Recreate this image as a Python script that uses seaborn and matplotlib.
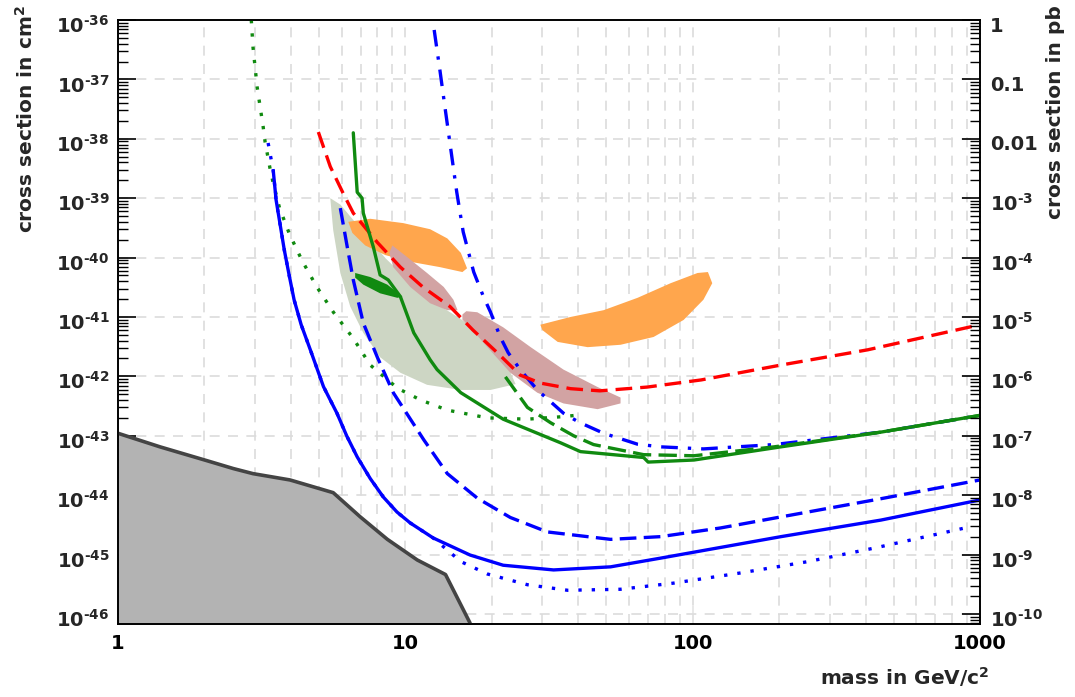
import numpy as np
import matplotlib
matplotlib.use("Agg")
import matplotlib.pyplot as plt
import matplotlib.transforms as mtransforms
import seaborn as sns
from matplotlib.ticker import FixedLocator, FixedFormatter, LogLocator, NullFormatter

# ---------------- data ----------------
mass_ticks = [1, 10, 100, 1000]
mass_tick_labels = ["1", "10", "100", "1000"]
cm2_exponents = [-36, -37, -38, -39, -40, -41, -42, -43, -44, -45, -46]
pb_tick_values = [1, 0.1, 0.01, 1e-3, 1e-4, 1e-5, 1e-6, 1e-7, 1e-8, 1e-9, 1e-10]
HY = "\u2010"
pb_tick_labels = ["1", "0.1", "0.01"] + ["$10^{%s%d}$" % (HY, k) for k in [3, 4, 5, 6, 7, 8, 9, 10]]

# grey region at the bottom left
grey_m = [1, 1.4, 2.04, 2.52, 2.95, 3.97, 5.61, 6.97, 8.66, 11.0, 13.8, 16.8]
grey_y = [1.1e-43, 6.5e-44, 3.8e-44, 2.8e-44, 2.3e-44, 1.8e-44, 1.1e-44, 4.3e-45, 1.8e-45, 8.1e-46, 4.6e-46, 7e-47]

blue_solid_m = [3.47, 3.55, 3.67, 3.79, 3.94, 4.10, 4.34, 4.67, 5.19, 5.78, 6.26, 6.80, 7.55, 8.38, 9.35,
                10.4, 12.5, 16.8, 21.9, 32.8, 51.8, 77.4, 203, 452, 1000]
blue_solid_y = [2.9e-39, 9.3e-40, 3.5e-40, 1.35e-40, 5.1e-41, 1.95e-41, 7.4e-42, 2.8e-42, 6.7e-43, 2.4e-43,
                9.8e-44, 4.4e-44, 1.9e-44, 9.3e-45, 5.2e-45, 3.4e-45, 1.9e-45, 9.8e-46, 6.6e-46, 5.5e-46,
                6.2e-46, 8.7e-46, 2.0e-45, 3.8e-45, 8.3e-45]

blue_dotted_m = [3.33, 3.47, 3.55, 3.67, 3.79, 3.94, 4.10, 4.34, 4.67, 5.19, 5.78, 6.26, 6.80, 7.55, 8.38,
                 9.35, 10.4, 12.5, 15.6, 19.3, 26.6, 36.7, 56.1, 85.9, 147, 252, 434, 916]
blue_dotted_y = [8.5e-39, 2.9e-39, 9.3e-40, 3.5e-40, 1.35e-40, 5.1e-41, 1.95e-41, 7.4e-42, 2.8e-42, 6.7e-43,
                 2.4e-43, 9.8e-44, 4.4e-44, 1.9e-44, 9.3e-45, 5.2e-45, 3.4e-45, 1.9e-45, 7.6e-46, 4.7e-46,
                 3.1e-46, 2.5e-46, 2.6e-46, 3.3e-46, 4.9e-46, 7.6e-46, 1.3e-45, 2.9e-45]

blue_dashed_m = [5.94, 6.28, 6.59, 7.14, 7.99, 9.08, 11.6, 14.0, 17.8, 23.2, 31.2, 51.8, 77.4, 125, 203, 452, 1000]
blue_dashed_y = [6.8e-40, 1.5e-40, 4.2e-41, 7.9e-42, 2.1e-42, 5.3e-43, 8.5e-44, 2.3e-44, 8.9e-45, 4.2e-45,
                 2.4e-45, 1.8e-45, 2.0e-45, 2.8e-45, 4.3e-45, 8.7e-45, 1.8e-44]

blue_dashdot_m = [12.6, 13.2, 13.8, 15.1, 15.9, 17.3, 18.7, 19.8, 21.4, 22.8, 25.1, 28.8, 35.5, 40.1, 49.0,
                  64.3, 77.4, 109, 192, 452, 1000]
blue_dashdot_y = [6.8e-37, 1.4e-37, 2.9e-38, 1.26e-39, 2.7e-40, 5.7e-41, 2.2e-41, 1.2e-41, 4.6e-42, 2.5e-42,
                  1.3e-42, 5.9e-43, 2.4e-43, 1.7e-43, 1.1e-43, 7.2e-44, 6.5e-44, 6.0e-44, 7.1e-44, 1.15e-43, 2.2e-43]

green_solid_m = [6.59, 6.80, 7.07, 7.14, 7.74, 8.17, 8.72, 9.61, 10.7, 12.2, 12.9, 15.6, 21.9, 34.7, 40.7,
                 67.5, 70, 101, 203, 452, 1000]
green_solid_y = [1.26e-38, 1.26e-39, 1.0e-39, 5.6e-40, 1.5e-40, 5.1e-41, 4.2e-41, 2.2e-41, 5.4e-42, 1.9e-42,
                 1.3e-42, 5.3e-43, 1.9e-43, 7.6e-44, 5.4e-44, 4.3e-44, 3.6e-44, 3.9e-44, 6.5e-44, 1.15e-43, 2.2e-43]

green_dashed_m = [22.3, 26.6, 32.0, 38.5, 45.2, 67.5, 101, 192, 452, 1000]
green_dashed_y = [9.8e-43, 3.0e-43, 1.66e-43, 1.0e-43, 7.1e-44, 4.8e-44, 4.6e-44, 6.5e-44, 1.15e-43, 2.2e-43]

green_dotted_m = [2.91, 2.95, 3.05, 3.20, 3.25, 3.38, 3.46, 3.65, 3.95, 4.37, 4.92, 5.62, 6.58, 7.55, 9.4,
                  11.3, 14.0, 19.3, 26.6, 35.5, 39]
green_dotted_y = [1e-36, 3.5e-37, 7.4e-38, 1.6e-38, 8.9e-39, 3.2e-39, 1.9e-39, 6.8e-40, 2.5e-40, 8.9e-41,
                  3.2e-41, 1.2e-41, 4.4e-42, 1.55e-42, 6.3e-43, 4.0e-43, 2.7e-43, 2.0e-43, 1.9e-43, 2.1e-43, 2.2e-43]

red_dashed_m = [4.98, 5.48, 6.08, 6.59, 7.99, 9.61, 11.5, 14.3, 17.2, 20.9, 25.1, 29.5, 37.6, 47.5, 69.5,
                107, 203, 407, 1000]
red_dashed_y = [1.3e-38, 3.4e-39, 1.2e-39, 5.6e-40, 1.8e-40, 6.9e-41, 3.2e-41, 1.5e-41, 6.0e-42, 2.5e-42,
                1.05e-42, 7.7e-43, 6.2e-43, 5.7e-43, 6.6e-43, 8.7e-43, 1.55e-42, 2.8e-42, 7.4e-42]

# closed regions
sage_m = [5.48, 5.61, 5.94, 6.43, 7.14, 8.17, 9.61, 11.9, 15.6, 19.8, 24.2, 21.4, 18.2, 15.2, 12.2, 10.2,
          8.52, 7.14, 5.94]
sage_y = [1.0e-39, 2.9e-40, 5.5e-41, 1.5e-41, 5.4e-42, 2.1e-42, 1.15e-42, 7.2e-43, 5.9e-43, 5.9e-43, 7.4e-43,
          2.8e-42, 5.6e-42, 1.0e-41, 1.95e-41, 4.2e-41, 9.8e-41, 2.7e-40, 7.8e-40]

orange1_m = [6.33, 7.55, 9.84, 12.2, 14.0, 15.6, 16.4, 15.8, 13.2, 10.4, 8.52, 7.25, 6.54]
orange1_y = [4.0e-40, 4.5e-40, 3.8e-40, 3.0e-40, 2.1e-40, 1.2e-40, 6.6e-41, 5.7e-41, 6.9e-41, 8.5e-41, 1.1e-40,
             1.6e-40, 2.6e-40]

orange2_m = [29.5, 37.6, 49.0, 64.3, 83.8, 104, 113, 117, 109, 93, 73.1, 56.1, 43.1, 33.9, 30.0]
orange2_y = [7.4e-42, 1.0e-41, 1.3e-41, 2.1e-41, 3.7e-41, 5.5e-41, 5.7e-41, 3.7e-41, 1.95e-41, 8.9e-42,
             4.6e-42, 3.4e-42, 3.1e-42, 3.8e-42, 6.0e-42]

pink1_m = [9.01, 10.2, 11.9, 13.6, 14.7, 15.2, 14.0, 12.2, 10.4, 9.08, 8.80]
pink1_y = [1.6e-40, 1.0e-40, 5.5e-41, 3.2e-41, 1.95e-41, 1.3e-41, 1.3e-41, 1.7e-41, 3.2e-41, 6.9e-41, 1.2e-40]

pink2_m = [16.3, 17.8, 21.9, 27.3, 35.5, 46.7, 56.1, 56.1, 46.7, 35.5, 28.8, 23.2, 19.3, 16.8, 15.8, 15.8]
pink2_y = [1.25e-41, 1.2e-41, 6.7e-42, 3.1e-42, 1.3e-42, 6.6e-43, 4.4e-43, 3.5e-43, 2.8e-43, 3.5e-43, 5.3e-43,
           1.15e-42, 3.1e-42, 6.7e-42, 9.0e-42, 1.1e-41]

green_blob_m = [6.69, 7.55, 8.66, 9.77, 9.38, 8.17, 7.14, 6.69]
green_blob_y = [5.5e-41, 4.7e-41, 3.5e-41, 2.2e-41, 2.1e-41, 2.5e-41, 3.5e-41, 4.6e-41]

# ---------------- styling ----------------
sns.set_style("white")
plt.rcParams['font.family'] = ['DejaVu Sans']
plt.rcParams['font.weight'] = 'bold'
plt.rcParams['mathtext.fontset'] = 'custom'
plt.rcParams['mathtext.rm'] = 'DejaVu Sans:bold'
plt.rcParams['mathtext.it'] = 'DejaVu Sans:bold'
plt.rcParams['mathtext.bf'] = 'DejaVu Sans:bold'
plt.rcParams['mathtext.sf'] = 'DejaVu Sans:bold'

BLUE = "#0000ff"
RED = "#ff0000"
GREEN = "#108a10"
LW = 2.4

YMIN = 10 ** (-46.17)
YMAX = 1e-36

fig = plt.figure(figsize=(10.75, 6.97), dpi=100)
ax = fig.add_axes([118 / 1075, 1 - 624 / 697, (980 - 118) / 1075, (624 - 20) / 697])
ax.set_xscale('log')
ax.set_yscale('log')
ax.set_xlim(1, 1000)
ax.set_ylim(YMIN, YMAX)
ax.set_facecolor("white")

# grid
ax.set_axisbelow(True)
ax.xaxis.grid(True, which='both', color='#dcdcdc', linestyle=(0, (6, 5)), linewidth=1.2)
ax.yaxis.grid(True, which='major', color='#dcdcdc', linestyle=(0, (6, 5)), linewidth=1.2)

# filled regions
ax.fill(sage_m, sage_y, color="#cdd6c4", lw=0, zorder=2)
ax.fill(orange1_m, orange1_y, color="#ffa64d", lw=0, zorder=2.1)
ax.fill(orange2_m, orange2_y, color="#ffa64d", lw=0, zorder=2.1)
ax.fill(pink1_m, pink1_y, color="#d2a3a3", lw=0, zorder=2.2)
ax.fill(pink2_m, pink2_y, color="#d2a3a3", lw=0, zorder=2.2)
ax.fill_between(grey_m, grey_y, YMIN / 2, color="#b3b3b3", lw=0, zorder=2)
ax.fill(green_blob_m, green_blob_y, color=GREEN, lw=0, zorder=3)

common = dict(ax=ax, sort=False, estimator=None, legend=False)
sns.lineplot(x=grey_m, y=grey_y, color="#444444", linewidth=2.6, zorder=4, **common)
sns.lineplot(x=green_dotted_m, y=green_dotted_y, color=GREEN, linewidth=LW, linestyle=(0, (1, 3)), zorder=4, **common)
sns.lineplot(x=blue_dotted_m, y=blue_dotted_y, color=BLUE, linewidth=LW, linestyle=(0, (1, 3)), zorder=4, **common)
sns.lineplot(x=blue_solid_m, y=blue_solid_y, color=BLUE, linewidth=LW, zorder=4.1, **common)
sns.lineplot(x=blue_dashed_m, y=blue_dashed_y, color=BLUE, linewidth=LW, linestyle=(0, (5, 2.2)), zorder=4, **common)
sns.lineplot(x=blue_dashdot_m, y=blue_dashdot_y, color=BLUE, linewidth=LW, linestyle=(0, (5, 3, 1, 3)), zorder=4, **common)
sns.lineplot(x=red_dashed_m, y=red_dashed_y, color=RED, linewidth=LW, linestyle=(0, (5, 2.4)), zorder=4.2, **common)
sns.lineplot(x=green_dashed_m, y=green_dashed_y, color=GREEN, linewidth=LW, linestyle=(0, (5.5, 2.2)), zorder=4.3, **common)
sns.lineplot(x=green_solid_m, y=green_solid_y, color=GREEN, linewidth=LW, zorder=4.4, **common)

ax.set_xlabel("")
ax.set_ylabel("")

# ticks: x
ax.xaxis.set_major_locator(FixedLocator(mass_ticks))
ax.xaxis.set_major_formatter(FixedFormatter(mass_tick_labels))
ax.xaxis.set_minor_locator(LogLocator(base=10, subs=np.arange(2, 10) * 1.0, numticks=100))
ax.xaxis.set_minor_formatter(NullFormatter())
ax.tick_params(axis='x', which='major', direction='in', length=13, width=1.2, color='#e4e4e4',
               labelsize=14, pad=7, bottom=True, top=False, labelcolor='black')
ax.tick_params(axis='x', which='minor', direction='in', length=6.5, width=1.2, color='#e4e4e4',
               bottom=True, top=False)

# ticks: y left
left_vals = [10.0 ** k for k in cm2_exponents]
left_labels = ["$10^{%s%d}$" % (HY, -k) for k in cm2_exponents]
ax.yaxis.set_major_locator(FixedLocator(left_vals))
ax.yaxis.set_major_formatter(FixedFormatter(left_labels))
ax.yaxis.set_minor_locator(LogLocator(base=10, subs=np.arange(2, 10) * 1.0, numticks=200))
ax.yaxis.set_minor_formatter(NullFormatter())
ax.tick_params(axis='y', which='major', direction='in', length=13, width=1.2, color='black',
               labelsize=14, pad=6, left=True, right=False)
ax.tick_params(axis='y', which='minor', direction='in', length=7, width=1.0, color='black',
               left=True, right=False)

# right axis in pb
ax2 = ax.twinx()
ax2.set_yscale('log')
ax2.set_ylim(YMIN * 1e36, YMAX * 1e36)
ax2.yaxis.set_major_locator(FixedLocator(pb_tick_values))
ax2.yaxis.set_major_formatter(FixedFormatter(pb_tick_labels))
ax2.yaxis.set_minor_locator(LogLocator(base=10, subs=np.arange(2, 10) * 1.0, numticks=200))
ax2.yaxis.set_minor_formatter(NullFormatter())
ax2.tick_params(axis='y', which='major', direction='in', length=13, width=1.2, color='black',
                labelsize=14, pad=7, right=True, left=False)
ax2.tick_params(axis='y', which='minor', direction='in', length=7, width=1.0, color='black',
                right=True, left=False)
ax2.grid(False)

# shift y tick labels slightly downward as in the reference
shift = mtransforms.ScaledTranslation(0, -4 / 100, fig.dpi_scale_trans)
for t in ax.yaxis.get_major_ticks():
    t.label1.set_transform(t.label1.get_transform() + shift)
for t in ax2.yaxis.get_major_ticks():
    t.label2.set_transform(t.label2.get_transform() + shift)

for a in (ax, ax2):
    for s in a.spines.values():
        s.set_color('black')
        s.set_linewidth(1.2)
        s.set_visible(True)

fig.text(0.024, 0.992, "cross section in cm$^{2}$", rotation=90, ha='center', va='top', fontsize=14.5)
fig.text(0.982, 0.992, "cross section in pb", rotation=90, ha='center', va='top', fontsize=14.5)
fig.text(990 / 1075, 1 - 685 / 697, "mass in GeV/c$^{2}$", ha='right', va='baseline', fontsize=14.5)

fig.savefig("out.png", dpi=100, facecolor='white')
